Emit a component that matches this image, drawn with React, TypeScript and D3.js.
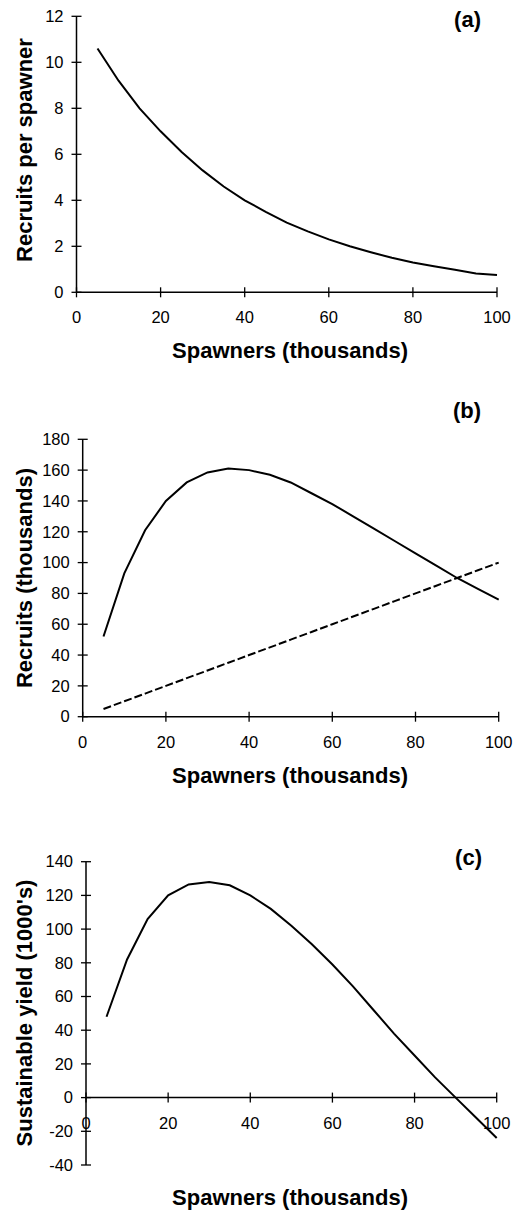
import * as d3 from "d3";

// values
const spawners = [5, 10, 15, 20, 25, 30, 35, 40, 45, 50, 55, 60, 65, 70, 75, 80, 85, 90, 95, 100];
const recruitsPerSpawner = [10.6, 9.2, 8.0, 7.0, 6.1, 5.3, 4.6, 4.0, 3.5, 3.03, 2.65, 2.3, 2.0, 1.74, 1.5, 1.3, 1.13, 0.98, 0.82, 0.75];
const recruits = [52, 93, 121, 140, 152, 158.5, 161, 160, 157, 152, 145, 138, 130, 122, 114, 106, 98, 90, 83, 76];
const replacement = [5, 10, 15, 20, 25, 30, 35, 40, 45, 50, 55, 60, 65, 70, 75, 80, 85, 90, 95, 100];
const sustainableYield = [48, 82, 106, 120, 126.5, 128, 126, 120, 112, 102, 91, 79, 66, 52, 38, 25, 12, 0, -12, -24];

const xTicks = [0, 20, 40, 60, 80, 100];
const yTicksA = [0, 2, 4, 6, 8, 10, 12];
const yTicksB = [0, 20, 40, 60, 80, 100, 120, 140, 160, 180];
const yTicksC = [-40, -20, 0, 20, 40, 60, 80, 100, 120, 140];

const font = "'Liberation Sans', Arial, Helvetica, sans-serif";

type Series = { values: number[]; dash?: string };

type PanelProps = {
  tag: string;
  yTitle: string;
  yTicks: number[];
  series: Series[];
  left: number;
  right: number;
  top: number;
  bottom: number;
  tagX: number;
  tagY: number;
  xTitleY: number;
  yTitleCy: number;
};

function Panel(p: PanelProps) {
  const yMin = p.yTicks[0];
  const yMax = p.yTicks[p.yTicks.length - 1];
  const x = d3.scaleLinear().domain([0, 100]).range([p.left, p.right]);
  const y = d3.scaleLinear().domain([yMin, yMax]).range([p.bottom, p.top]);
  const y0 = y(0);

  const line = d3
    .line<number>()
    .x((_, i) => x(spawners[i]))
    .y((d) => y(d));

  return (
    <g fontFamily={font} fill="#000">
      {/* axes */}
      <line x1={x(0)} x2={x(100)} y1={y0} y2={y0} stroke="#000" strokeWidth={1.5} />
      <line x1={x(0)} x2={x(0)} y1={y(yMin)} y2={y(yMax)} stroke="#000" strokeWidth={1.5} />
      {xTicks.map((t) => (
        <g key={"x" + t}>
          <line x1={x(t)} x2={x(t)} y1={y0 - 5} y2={y0 + 5} stroke="#000" strokeWidth={1.3} />
          <text x={x(t)} y={y0 + 31} textAnchor="middle" fontSize={16.5}>
            {t}
          </text>
        </g>
      ))}
      {p.yTicks.map((t) => (
        <g key={"y" + t}>
          <line x1={x(0) - 5} x2={x(0) + 5} y1={y(t)} y2={y(t)} stroke="#000" strokeWidth={1.3} />
          <text x={x(0) - 13} y={y(t)} dy="0.35em" textAnchor="end" fontSize={16.5}>
            {t}
          </text>
        </g>
      ))}

      {p.series.map((s, i) => (
        <path
          key={i}
          d={line(s.values) ?? ""}
          fill="none"
          stroke="#000"
          strokeWidth={2}
          strokeDasharray={s.dash}
        />
      ))}

      <text x={p.tagX} y={p.tagY} textAnchor="end" fontSize={22} fontWeight="bold">
        {p.tag}
      </text>
      <text x={290} y={p.xTitleY} textAnchor="middle" fontSize={22} fontWeight="bold">
        Spawners (thousands)
      </text>
      <text
        transform={`translate(32,${p.yTitleCy}) rotate(-90)`}
        textAnchor="middle"
        fontSize={22}
        fontWeight="bold"
      >
        {p.yTitle}
      </text>
    </g>
  );
}

export default function App() {
  return (
    <svg
      width={515}
      height={1210}
      style={{ position: "absolute", left: 0, top: 0, background: "#fff" }}
    >
      <Panel
        tag="(a)"
        yTitle="Recruits per spawner"
        yTicks={yTicksA}
        series={[{ values: recruitsPerSpawner }]}
        left={76.5}
        right={497}
        top={16.3}
        bottom={292.3}
        tagX={481}
        tagY={27}
        xTitleY={358}
        yTitleCy={150}
      />
      <Panel
        tag="(b)"
        yTitle="Recruits (thousands)"
        yTicks={yTicksB}
        series={[{ values: recruits }, { values: replacement, dash: "8,3" }]}
        left={82.7}
        right={498.7}
        top={439.3}
        bottom={716.7}
        tagX={481}
        tagY={418}
        xTitleY={783}
        yTitleCy={578}
      />
      <Panel
        tag="(c)"
        yTitle="Sustainable yield (1000's)"
        yTicks={yTicksC}
        series={[{ values: sustainableYield }]}
        left={86}
        right={496.7}
        top={861.7}
        bottom={1165}
        tagX={482}
        tagY={865}
        xTitleY={1205}
        yTitleCy={1013}
      />
    </svg>
  );
}
